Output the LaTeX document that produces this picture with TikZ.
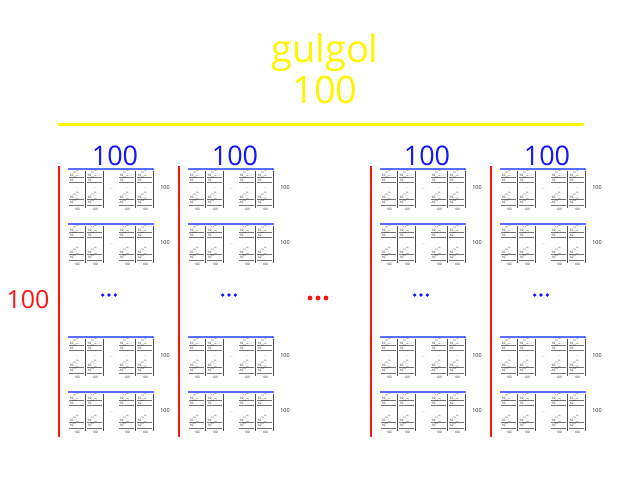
\documentclass[tikz,border=0pt]{standalone}
\usepackage{fontspec}
\setmainfont{Open Sans}
\usepackage{xcolor}
\usetikzlibrary{positioning}
\definecolor{gulyellow}{RGB}{255,245,0}
\definecolor{gulblue}{RGB}{20,20,255}
\definecolor{gulred}{RGB}{255,20,20}
\definecolor{lineblue}{RGB}{90,110,255}

\begin{document}
\begin{tikzpicture}[x=1pt,y=-1pt,
	title/.style={text=gulyellow,font=\fontsize{38}{40}\selectfont,inner sep=0pt,anchor=base},
	colnum/.style={text=gulblue,font=\fontsize{27}{29}\selectfont,inner sep=0pt,anchor=base},
	rownum/.style={text=gulred,font=\fontsize{25}{27}\selectfont,inner sep=0pt,anchor=base},
	redline/.style={gulred,line width=1.5pt},
	blockline/.style={lineblue,line width=1.3pt},
	subline/.style={black!70,line width=1.1pt},
	thinline/.style={black!55,line width=.4pt},
	tinyrow/.style={text=black,font=\fontsize{3.2}{3.5}\selectfont,inner sep=0pt,anchor=base west},
	tinymark/.style={text=black!85,font=\fontsize{3.2}{3.5}\selectfont,inner sep=0pt},
	tinynum/.style={text=black!85,font=\fontsize{5.5}{6}\selectfont,inner sep=0pt}]
	\useasboundingbox (0,0) rectangle (619,480);
	
	\node[title] (name) at (325,62) {gulgol};
	\node[title] (count) at (325,103) {100};
	\draw[gulyellow,line width=3pt] (58,124) -- (584,124);
	
	\node[rownum] (rows) at (28,308) {100};
	\foreach \i in {-1,0,1}
		\fill[gulred] (318+\i*8,298) circle (2.4);
	
	\foreach \c/\rx in {1/59,2/179,3/371,4/491}{
		\draw[redline] (\rx,166) -- (\rx,437);
		\node[colnum] (num\c) at (\rx+56,165) {100};
		\foreach \i in {-1,0,1}
			\fill[gulblue] (\rx+50+\i*6.3,295) circle (1.8);
		\foreach \r/\y in {1/169,2/224,3/337,4/392}{
			\draw[blockline] (\rx+9,\y) -- ++(86,0);
			\node[tinynum] (n\c\r) at (\rx+106,\y+19) {100};
			\node[tinymark] (d\c\r) at (\rx+52.5,\y+20) {\dots};
			\foreach \s in {0,18,50,68}{
				\draw[subline] (\rx+9+\s+17.5,\y+2) -- ++(0,37);
				\foreach \k in {7,12,29,34.5}{
					\node[tinyrow] at (\rx+9+\s+1.5,\y+\k) {10\textsuperscript{10\textsuperscript{100}}};
					\draw[thinline] (\rx+9+\s+1,\y+\k+1.2) -- ++(15,0);
				}
				\node[tinymark] at (\rx+9+\s+9,\y+20.5) {$\vdots$};
				\node[tinymark] at (\rx+9+\s+9,\y+40.5) {100};
			}
		}
	}
\end{tikzpicture}
\end{document}
